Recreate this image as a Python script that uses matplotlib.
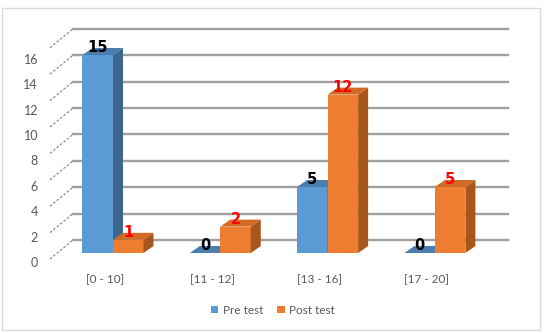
import numpy as np
import matplotlib
matplotlib.use('Agg')
import matplotlib.pyplot as plt
from matplotlib.patches import Polygon, Rectangle

# data
categories = ['[0 - 10]', '[11 - 12]', '[13 - 16]', '[17 - 20]']
pre_test = [15, 0, 5, 0]
post_test = [1, 2, 12, 5]
yticks = [0, 2, 4, 6, 8, 10, 12, 14, 16]

plt.rcParams['font.family'] = ['Lato', 'DejaVu Sans']

# pixel geometry of the fake 3d chart
W, H = 544, 333
PX = 107.3      # px per category
PY = 13.2       # px per value unit
X0, Y0 = 113, 253
bw = 30.5 / PX
dep = (10 / PX, 7 / PY)       # bar depth
back = (16 / PX, 13 / PY)     # bar front -> back wall
front = (-7 / PX, -6 / PY)    # bar front -> floor front edge

fig = plt.figure(figsize=(W / 100, H / 100), dpi=100)
ax = fig.add_axes([0, 0, 1, 1])
ax.set_xlim(-X0 / PX, (W - X0) / PX)
ax.set_ylim((Y0 - H) / PY, Y0 / PY)
ax.axis('off')

def px(xp):
    return (xp - X0) / PX

#chart border
ax.add_patch(Rectangle((px(2), (Y0 - 330) / PY), 538 / PX, 322 / PY,
                       fill=False, ec='#d9d9d9', lw=1, zorder=0))

#back wall gridlines + dashed depth lines
for v in yticks:
    ax.plot([px(73), px(508)], [v + back[1]] * 2, color='#a0a0a0', lw=1.7, zorder=1)
    ax.plot([px(50), px(73)], [v + front[1], v + back[1]], color='#8c8c8c',
            lw=0.9, ls=(0, (2, 1.5)), zorder=1)
    ax.text(px(38), (Y0 - 263 + 12.7 * v) / PY, str(v), ha='right', va='center',
            fontsize=9, color='#595959')

x = np.arange(len(categories))

def bar3d(xs, vals, face, top, side, lab_color, label):
    ax.bar(xs, vals, width=bw, align='edge', color=face, lw=0, zorder=3, label=label)
    for xi, v in zip(xs, vals):
        ax.add_patch(Polygon([(xi + bw, 0), (xi + bw + dep[0], dep[1]),
                              (xi + bw + dep[0], v + dep[1]), (xi + bw, v)],
                             closed=True, fc=side, lw=0, zorder=3))
        ax.add_patch(Polygon([(xi, v), (xi + bw, v), (xi + bw + dep[0], v + dep[1]),
                              (xi + dep[0], v + dep[1])],
                             closed=True, fc=top, lw=0, zorder=3))
        ax.text(xi + bw / 2, v + 7 / PY, str(v), ha='center', va='center',
                fontsize=10.5, fontweight='bold', color=lab_color,
                family='DejaVu Sans', zorder=5)

bar3d(x - bw, pre_test, '#5b9bd5', '#4a7db0', '#3c6690', 'black', 'Pre test')
bar3d(x, post_test, '#ed7d31', '#d06a25', '#a9561d', '#ff0000', 'Post test')

for xi, c in zip(x, categories):
    ax.text(xi - 8 / PX, (Y0 - 280) / PY, c, ha='center', va='center',
            fontsize=8.5, color='#595959')

ax.legend(loc='center', bbox_to_anchor=(0.502, 1 - 310 / H), ncol=2, frameon=False,
          handlelength=0.6, handleheight=0.6, handletextpad=0.4, columnspacing=1.2,
          fontsize=8.5, labelcolor='#595959')

plt.savefig('out.png', dpi=100)
plt.close()
